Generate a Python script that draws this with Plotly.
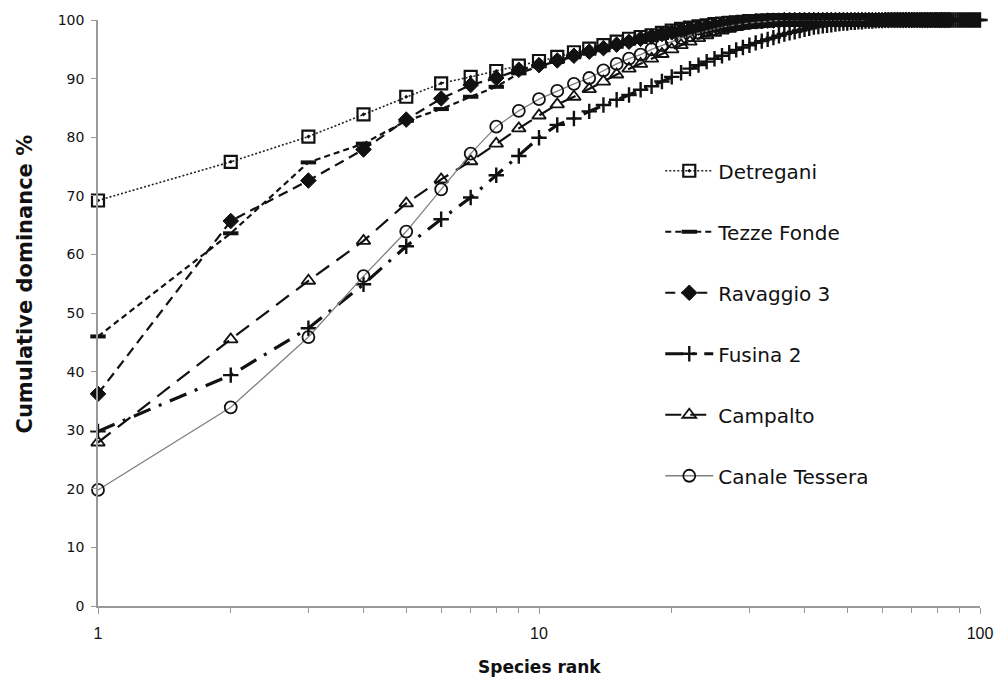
import plotly.graph_objects as go

# Cumulative dominance (%) by species rank for each site
detregani = [
    69.2, 75.8, 80.1, 83.9, 86.9, 89.2, 90.3, 91.3, 92.2, 93.0,
    93.7, 94.5, 95.1, 95.7, 96.3, 96.8, 97.1, 97.4, 97.8, 98.2,
    98.5, 98.7, 98.9, 99.1, 99.3, 99.4, 99.5, 99.6, 99.7, 99.8,
    99.8, 99.9, 99.9, 100, 100, 100, 100, 100, 100, 100,
    100, 100, 100, 100, 100, 100, 100, 100, 100, 100,
    100, 100, 100, 100, 100, 100, 100, 100, 100, 100,
]
tezze_fonde = [
    46.0, 63.6, 75.7, 78.9, 82.8, 84.8, 86.9, 88.6, 90.9, 92.1,
    93.0, 93.8, 94.6, 95.3, 95.9, 96.5, 97.0, 97.4, 97.8, 98.1,
    98.4, 98.7, 98.9, 99.1, 99.3, 99.4, 99.5, 99.6, 99.7, 99.8,
    99.8, 99.9, 99.9, 99.9, 100, 100, 100, 100, 100, 100,
    100, 100, 100, 100, 100, 100, 100, 100, 100, 100,
    100, 100, 100, 100, 100, 100, 100, 100, 100, 100,
    100, 100, 100, 100, 100, 100, 100, 100, 100, 100,
    100, 100, 100, 100, 100,
]
ravaggio_3 = [
    36.2, 65.7, 72.6, 77.9, 83.0, 86.6, 88.9, 90.1, 91.5, 92.3,
    93.1, 93.9, 94.6, 95.2, 95.8, 96.3, 96.8, 97.2, 97.6, 97.9,
    98.2, 98.5, 98.7, 98.9, 99.1, 99.3, 99.4, 99.5, 99.6, 99.7,
    99.8, 99.8, 99.9, 99.9, 99.9, 100, 100, 100, 100, 100,
    100, 100, 100, 100, 100, 100, 100, 100, 100, 100,
    100, 100, 100, 100, 100, 100, 100, 100, 100, 100,
    100, 100, 100, 100, 100, 100, 100, 100, 100, 100,
    100, 100, 100, 100, 100, 100, 100, 100, 100, 100,
    100, 100, 100, 100, 100,
]
fusina_2 = [
    29.8, 39.4, 47.4, 54.9, 61.4, 66.0, 69.7, 73.5, 76.8, 79.9,
    82.1, 83.2, 84.4, 85.5, 86.4, 87.2, 88.1, 88.7, 89.5, 90.3,
    91.0, 91.7, 92.3, 92.9, 93.4, 93.9, 94.4, 94.9, 95.3, 95.7,
    96.1, 96.4, 96.7, 97.0, 97.3, 97.6, 97.8, 98.0, 98.2, 98.4,
    98.6, 98.8, 98.9, 99.0, 99.1, 99.2, 99.3, 99.4, 99.5, 99.5,
    99.6, 99.6, 99.7, 99.7, 99.8, 99.8, 99.8, 99.9, 99.9, 99.9,
    100, 100, 100, 100, 100, 100, 100, 100, 100, 100,
    100, 100, 100, 100, 100, 100, 100, 100, 100, 100,
    100, 100, 100, 100, 100, 100, 100, 100, 100, 100,
    100, 100, 100, 100, 100, 100, 100, 100, 100, 100,
]
campalto = [
    27.9, 45.5, 55.5, 62.3, 68.7, 72.8, 75.9, 78.9, 81.5, 83.7,
    85.6, 86.9, 88.2, 89.5, 90.7, 91.7, 92.5, 93.4, 94.2, 95.0,
    95.7, 96.3, 96.9, 97.4, 97.8, 98.2, 98.5, 98.8, 99.0, 99.2,
    99.4, 99.5, 99.6, 99.7, 99.8, 99.8, 99.9, 99.9, 100, 100,
    100, 100, 100, 100, 100, 100, 100, 100, 100, 100,
    100, 100, 100, 100, 100, 100, 100, 100, 100, 100,
    100, 100, 100, 100, 100, 100, 100, 100, 100, 100,
]
canale_tessera = [
    19.8, 33.9, 45.9, 56.3, 63.9, 71.1, 77.2, 81.8, 84.5, 86.5,
    87.9, 89.1, 90.1, 91.4, 92.5, 93.4, 94.1, 95.0, 95.7, 96.3,
    96.9, 97.4, 97.8, 98.2, 98.5, 98.8, 99.0, 99.2, 99.4, 99.5,
    99.6, 99.7, 99.8, 99.9, 99.9, 100, 100, 100, 100, 100,
    100, 100, 100, 100, 100, 100, 100, 100, 100, 100,
    100, 100, 100, 100, 100,
]

site_names = ["Detregani", "Tezze Fonde", "Ravaggio 3", "Fusina 2", "Campalto", "Canale Tessera"]
site_values = [detregani, tezze_fonde, ravaggio_3, fusina_2, campalto, canale_tessera]

styles = {
    "Detregani": dict(line=dict(color="#222", width=1.6, dash="2px,2px"),
                      marker=dict(symbol="square-open-dot", size=12, color="#111",
                                  line=dict(width=2.2, color="#111"))),
    "Tezze Fonde": dict(line=dict(color="#111", width=2.2, dash="6px,4px"),
                        marker=dict(symbol="line-ew", size=11, color="#111",
                                    line=dict(width=4, color="#111"))),
    "Ravaggio 3": dict(line=dict(color="#111", width=2.2, dash="10px,6px"),
                       marker=dict(symbol="diamond", size=12, color="#111",
                                   line=dict(width=1, color="#111"))),
    "Fusina 2": dict(line=dict(color="#111", width=3.2, dash="18px,9px,3px,9px"),
                     marker=dict(symbol="cross-thin", size=11, color="#111",
                                 line=dict(width=2.4, color="#111"))),
    "Campalto": dict(line=dict(color="#111", width=2.2, dash="16px,9px"),
                     marker=dict(symbol="triangle-up-open", size=12, color="#111",
                                 line=dict(width=1.8, color="#111"))),
    "Canale Tessera": dict(line=dict(color="#808080", width=1.3),
                           marker=dict(symbol="circle-open", size=12, color="#111",
                                       line=dict(width=1.8, color="#111"))),
}

fig = go.Figure()
for name, vals in zip(site_names, site_values):
    ranks = list(range(1, len(vals) + 1))
    fig.add_trace(go.Scatter(
        x=ranks, y=vals, name=name, mode="lines+markers",
        legendgroup=name, cliponaxis=False, **styles[name],
    ))

axis_color = "#9a9a9a"
fig.update_layout(
    width=1005, height=678,
    margin=dict(l=98, r=24, t=18, b=72),
    paper_bgcolor="white", plot_bgcolor="white",
    font=dict(family="DejaVu Sans", color="#111"),
    showlegend=True,
    legend=dict(
        x=0.6375, y=0.776, xanchor="left", yanchor="top",
        font=dict(family="DejaVu Sans", size=20, color="#111"),
        tracegroupgap=32, itemwidth=48, bgcolor="rgba(0,0,0,0)",
    ),
    xaxis=dict(
        type="log", range=[0, 2],
        tickvals=[1, 10, 100], ticktext=["1", "10", "100"],
        ticks="outside", ticklen=6, tickcolor=axis_color, tickwidth=1.3,
        minor=dict(tickvals=[2, 3, 4, 5, 6, 7, 8, 9, 20, 30, 40, 50, 60, 70, 80, 90],
                   ticks="outside", ticklen=5, tickcolor=axis_color, tickwidth=1.3),
        showline=True, linecolor=axis_color, linewidth=1.6,
        showgrid=False, zeroline=False,
        tickfont=dict(family="Liberation Sans Narrow, Arial", size=16, color="#111"),
        ticklabelstandoff=6,
    ),
    yaxis=dict(
        range=[0, 100], dtick=10,
        ticks="outside", ticklen=5, tickcolor=axis_color, tickwidth=1.3,
        showline=True, linecolor=axis_color, linewidth=1.6,
        showgrid=False, zeroline=False,
        tickfont=dict(family="DejaVu Sans", size=14, color="#111"),
        ticklabelstandoff=4,
    ),
    annotations=[
        dict(text="<b>Cumulative dominance %</b>", textangle=-90,
             xref="paper", yref="paper", x=-0.083, y=0.55,
             xanchor="center", yanchor="middle", showarrow=False,
             font=dict(family="DejaVu Sans", size=21, color="#111")),
        dict(text="<b>Species rank</b>",
             xref="paper", yref="paper", x=0.5, y=-0.104,
             xanchor="center", yanchor="middle", showarrow=False,
             font=dict(family="DejaVu Sans", size=17, color="#111")),
    ],
)

fig.write_html("out.html")
